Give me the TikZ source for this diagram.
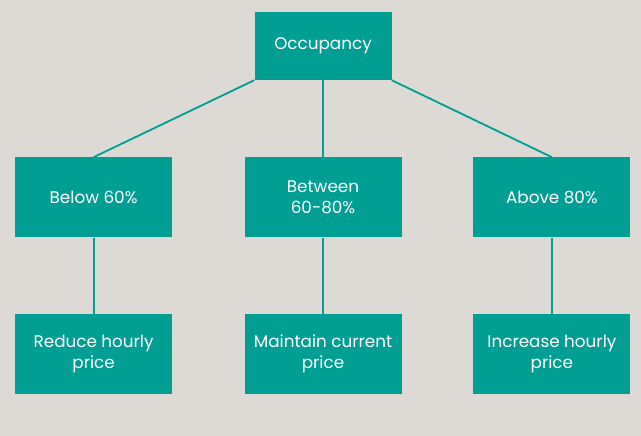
\documentclass[tikz,border=0pt]{standalone}
\usepackage{fontspec}
\setmainfont{Poppins}
\usepackage{tikz}
\usetikzlibrary{positioning}

\definecolor{tealbox}{HTML}{009E93}
\definecolor{paper}{HTML}{DDD9D5}

\begin{document}
\begin{tikzpicture}[x=1pt, y=-1pt, every node/.style={font=\fontsize{16.8}{21}\selectfont, text=white},
  box/.style={fill=tealbox, minimum width=157pt, minimum height=80pt, inner sep=2pt, align=center},
  link/.style={draw=tealbox, line width=1.8pt}]
\fill[paper] (0,0) rectangle (641,436);
\useasboundingbox (0,0) rectangle (641,436);

\node[box, minimum width=137pt, minimum height=68pt] (occ) at (323,46) {Occupancy};
\node[box, below=77pt of occ] (mid) {Between\\60-80\%};
\node[box, left=72pt of mid] (low) {Below 60\%};
\node[box, right=71.5pt of mid] (high) {Above 80\%};
\node[box, below=76pt of low] (reduce) {Reduce hourly\\price};
\node[box, below=76pt of mid] (keep) {Maintain current\\price};
\node[box, below=76pt of high] (raise) {Increase hourly\\price};

\draw[link] (occ.south west) -- (low.north);
\draw[link] (occ.south) -- (mid.north);
\draw[link] (occ.south east) -- (high.north);
\draw[link] (low) -- (reduce);
\draw[link] (mid) -- (keep);
\draw[link] (high) -- (raise);
\end{tikzpicture}
\end{document}
